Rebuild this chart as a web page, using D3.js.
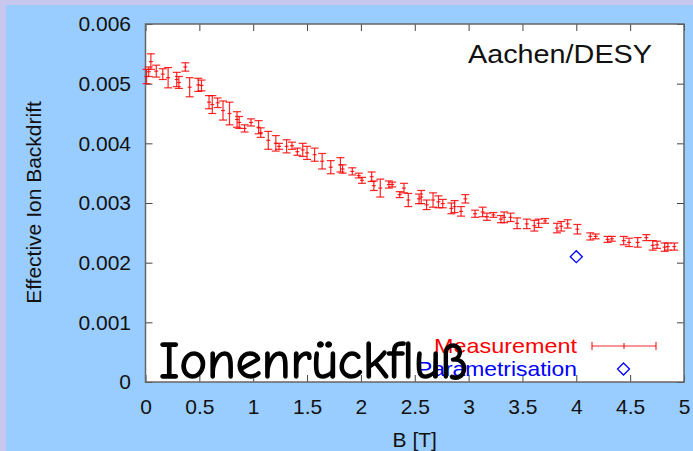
<!DOCTYPE html>
<html>
<head>
<meta charset="utf-8">
<script src="https://cdn.jsdelivr.net/npm/d3@7"></script>
<style>
  html, body { margin: 0; padding: 0; background: #99ccff; }
  svg { display: block; }
  text { font-family: "Liberation Sans", Arial, sans-serif; }
</style>
</head>
<body>
<svg id="chart" width="693" height="451"></svg>
<script>
// Magnetic field B [T]
const fieldB = [0.01, 0.03, 0.05, 0.10, 0.16, 0.21, 0.29, 0.31, 0.37, 0.41,
  0.49, 0.52, 0.59, 0.62, 0.67, 0.72, 0.78, 0.85, 0.87, 0.92,
  0.98, 1.05, 1.07, 1.14, 1.21, 1.24, 1.31, 1.36, 1.41, 1.46,
  1.50, 1.57, 1.64, 1.72, 1.81, 1.83, 1.92, 1.98, 2.01, 2.10,
  2.12, 2.18, 2.26, 2.29, 2.36, 2.40, 2.44, 2.54, 2.56, 2.61,
  2.67, 2.72, 2.76, 2.84, 2.87, 2.93, 2.97, 3.06, 3.13, 3.17,
  3.23, 3.30, 3.33, 3.39, 3.45, 3.54, 3.61, 3.65, 3.71, 3.82,
  3.86, 3.92, 4.01, 4.13, 4.18, 4.29, 4.33, 4.44, 4.49, 4.57,
  4.65, 4.71, 4.75, 4.82, 4.85, 4.91];
// Measured effective ion backdrift
const backdrift = [0.00512, 0.00520, 0.00537, 0.00521, 0.00516, 0.00510, 0.00507, 0.00502, 0.00528, 0.00494,
  0.00498, 0.00497, 0.00469, 0.00465, 0.00468, 0.00455, 0.00450, 0.00440, 0.00435, 0.00425,
  0.00435, 0.00427, 0.00418, 0.00405, 0.00400, 0.00395, 0.00395, 0.00396, 0.00386, 0.00389,
  0.00384, 0.00381, 0.00370, 0.00360, 0.00364, 0.00357, 0.00353, 0.00346, 0.00338, 0.00344,
  0.00329, 0.00325, 0.00331, 0.00331, 0.00314, 0.00325, 0.00305, 0.00307, 0.00310, 0.00297,
  0.00305, 0.00302, 0.00299, 0.00291, 0.00294, 0.00286, 0.00307, 0.00282, 0.00285, 0.00277,
  0.00280, 0.00273, 0.00276, 0.00276, 0.00266, 0.00265, 0.00262, 0.00266, 0.00270, 0.00258,
  0.00261, 0.00265, 0.00256, 0.00244, 0.00244, 0.00239, 0.00240, 0.00237, 0.00234, 0.00234,
  0.00242, 0.00229, 0.00230, 0.00226, 0.00227, 0.00227];
// Uncertainty (half length of each error bar)
const backdriftErr = [0.00012, 0.00008, 0.00013, 0.00010, 0.00009, 0.00017, 0.00012, 0.00010, 0.00007, 0.00016,
  0.00011, 0.00009, 0.00011, 0.00015, 0.00008, 0.00016, 0.00019, 0.00013, 0.00010, 0.00006,
  0.00006, 0.00011, 0.00008, 0.00015, 0.00013, 0.00005, 0.00011, 0.00006, 0.00006, 0.00011,
  0.00011, 0.00011, 0.00013, 0.00011, 0.00012, 0.00007, 0.00006, 0.00004, 0.00005, 0.00008,
  0.00008, 0.00015, 0.00006, 0.00004, 0.00005, 0.00008, 0.00011, 0.00008, 0.00011, 0.00008,
  0.00012, 0.00010, 0.00007, 0.00009, 0.00010, 0.00008, 0.00007, 0.00006, 0.00008, 0.00006,
  0.00004, 0.00006, 0.00009, 0.00007, 0.00009, 0.00008, 0.00009, 0.00007, 0.00004, 0.00008,
  0.00008, 0.00007, 0.00008, 0.00006, 0.00004, 0.00005, 0.00004, 0.00007, 0.00007, 0.00008,
  0.00005, 0.00008, 0.00006, 0.00007, 0.00006, 0.00006];
// Parametrisation point
const paramB = [4.0];
const paramValue = [0.0021];

const xTicks = [0, 0.5, 1, 1.5, 2, 2.5, 3, 3.5, 4, 4.5, 5];
const xTickLabels = ["0", "0.5", "1", "1.5", "2", "2.5", "3", "3.5", "4", "4.5", "5"];
const yTicks = [0, 0.001, 0.002, 0.003, 0.004, 0.005, 0.006];
const yTickLabels = ["0", "0.001", "0.002", "0.003", "0.004", "0.005", "0.006"];

const svg = d3.select("#chart");
const W = 693, H = 451;
const plotLeft = 145.5, plotRight = 684, plotTop = 24, plotBottom = 382;

// slide background with lavender edge
svg.append("rect").attr("width", W).attr("height", H).attr("fill", "#c8c8ee");
svg.append("rect").attr("x", 6).attr("y", 5).attr("width", W - 6).attr("height", H - 5).attr("fill", "#99ccff");

const x = d3.scaleLinear().domain([0, 5]).range([plotLeft, plotRight]);
const y = d3.scaleLinear().domain([0, 0.006]).range([plotBottom, plotTop]);

svg.append("rect")
  .attr("x", plotLeft).attr("y", plotTop)
  .attr("width", plotRight - plotLeft).attr("height", plotBottom - plotTop)
  .attr("fill", "#ffffff");

const tickLen = 7;
function styleAxis(g) {
  g.select(".domain").remove();
  g.selectAll(".tick line").attr("stroke", "#444").attr("stroke-width", 1);
  g.selectAll(".tick text").attr("fill", "#111").style("font-size", "21px")
    .style("font-family", "'Liberation Sans', Arial, sans-serif");
}

svg.append("g").attr("transform", `translate(0,${plotBottom})`)
  .call(d3.axisBottom(x).tickValues(xTicks).tickSize(-tickLen).tickPadding(17.5)
    .tickFormat((d, i) => xTickLabels[i]))
  .call(styleAxis);
svg.append("g").attr("transform", `translate(0,${plotTop})`)
  .call(d3.axisTop(x).tickValues(xTicks).tickSize(-tickLen).tickFormat(""))
  .call(styleAxis);
svg.append("g").attr("transform", `translate(${plotLeft},0)`)
  .call(d3.axisLeft(y).tickValues(yTicks).tickSize(-tickLen).tickPadding(14.5)
    .tickFormat((d, i) => yTickLabels[i]))
  .call(styleAxis);
svg.append("g").attr("transform", `translate(${plotRight},0)`)
  .call(d3.axisRight(y).tickValues(yTicks).tickSize(-tickLen).tickFormat(""))
  .call(styleAxis);

// plot frame
svg.append("rect")
  .attr("x", plotLeft).attr("y", plotTop)
  .attr("width", plotRight - plotLeft).attr("height", plotBottom - plotTop)
  .attr("fill", "none").attr("stroke", "#666").attr("stroke-width", 1.5);

// measurement error bars
const meas = fieldB.map((b, i) => ({ b, v: backdrift[i], e: backdriftErr[i] }));
const red = "#ff0000";
const cap = 4, mid = 2;
const bars = svg.append("g").attr("stroke", red).attr("stroke-width", 1.2).attr("stroke-opacity", 0.85);
const eb = bars.selectAll("g").data(meas).join("g");
eb.append("line")
  .attr("x1", d => x(d.b)).attr("x2", d => x(d.b))
  .attr("y1", d => y(d.v - d.e)).attr("y2", d => y(d.v + d.e));
eb.append("line")
  .attr("x1", d => x(d.b) - cap).attr("x2", d => x(d.b) + cap)
  .attr("y1", d => y(d.v + d.e)).attr("y2", d => y(d.v + d.e));
eb.append("line")
  .attr("x1", d => x(d.b) - cap).attr("x2", d => x(d.b) + cap)
  .attr("y1", d => y(d.v - d.e)).attr("y2", d => y(d.v - d.e));
eb.append("line")
  .attr("x1", d => x(d.b) - mid).attr("x2", d => x(d.b) + mid)
  .attr("y1", d => y(d.v)).attr("y2", d => y(d.v));

// parametrisation diamonds
const diamond = (cx, cy, r) => `M${cx},${cy - r}L${cx + r},${cy}L${cx},${cy + r}L${cx - r},${cy}Z`;
svg.append("g").selectAll("path").data(paramB.map((b, i) => ({ b, v: paramValue[i] })))
  .join("path")
  .attr("d", d => diamond(x(d.b), y(d.v), 6))
  .attr("fill", "none").attr("stroke", "#0000ff").attr("stroke-width", 1.3);

// header label
svg.append("text")
  .attr("x", 468).attr("y", 63)
  .attr("textLength", 184).attr("lengthAdjust", "spacingAndGlyphs")
  .style("font-size", "26px").attr("fill", "#111")
  .text("Aachen/DESY");

// legend
svg.append("text")
  .attr("x", 577).attr("y", 353).attr("text-anchor", "end")
  .attr("textLength", 143).attr("lengthAdjust", "spacingAndGlyphs")
  .style("font-size", "21px").attr("fill", "#ff0000")
  .text("Measurement");
const lg = svg.append("g").attr("stroke", red).attr("stroke-width", 1.2).attr("stroke-opacity", 0.85);
lg.append("line").attr("x1", 592).attr("x2", 656).attr("y1", 346).attr("y2", 346);
lg.append("line").attr("x1", 592).attr("x2", 592).attr("y1", 342).attr("y2", 350);
lg.append("line").attr("x1", 656).attr("x2", 656).attr("y1", 342).attr("y2", 350);
lg.append("line").attr("x1", 624).attr("x2", 624).attr("y1", 343).attr("y2", 349);

svg.append("text")
  .attr("x", 577).attr("y", 376).attr("text-anchor", "end")
  .attr("textLength", 160).attr("lengthAdjust", "spacingAndGlyphs")
  .style("font-size", "21px").attr("fill", "#0000ff")
  .text("Parametrisation");
svg.append("path").attr("d", diamond(623.5, 369, 6))
  .attr("fill", "none").attr("stroke", "#0000ff").attr("stroke-width", 1.3);

// overlay caption
svg.append("text")
  .attr("x", 159).attr("y", 378)
  .attr("textLength", 309).attr("lengthAdjust", "spacingAndGlyphs")
  .style("font-family", "'Comic Sans MS', 'Comic Neue', 'DejaVu Sans', sans-serif")
  .style("font-size", "53px").style("font-weight", "normal")
  .attr("fill", "#000").attr("stroke", "#000").attr("stroke-width", 1.4)
  .text("Ionenrückfluß");

// axis titles
svg.append("text")
  .attr("x", (plotLeft + plotRight) / 2).attr("y", 447).attr("text-anchor", "middle")
  .style("font-size", "21px").attr("fill", "#111")
  .text("B [T]");
svg.append("text")
  .attr("transform", `translate(41,${(100 + 305) / 2}) rotate(-90)`)
  .attr("text-anchor", "middle")
  .style("font-size", "21px").attr("fill", "#111")
  .text("Effective Ion Backdrift");
</script>
</body>
</html>
